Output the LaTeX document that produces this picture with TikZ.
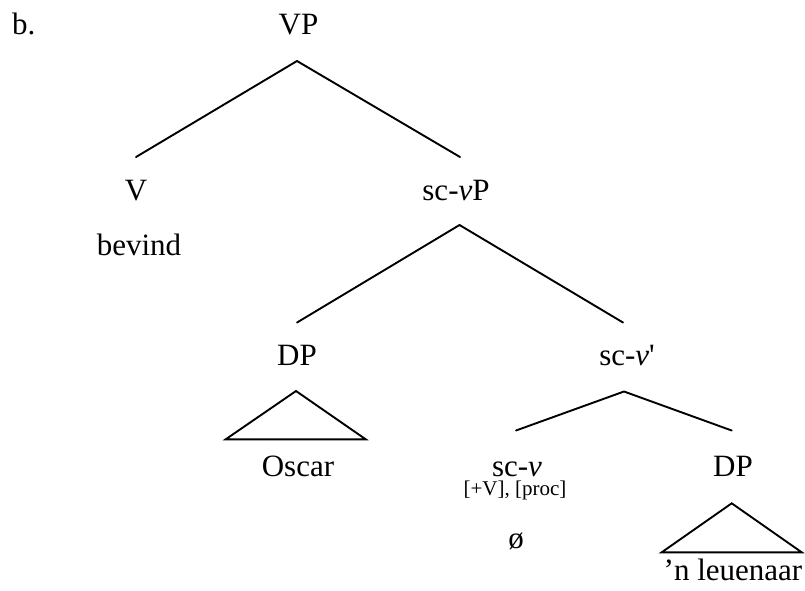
\documentclass[tikz,border=0pt]{standalone}
\usepackage{fontspec}
\setmainfont{Liberation Serif}
\tikzset{
  lbl/.style={anchor=base, inner sep=0pt, font=\fontsize{31}{36}\selectfont},
  small/.style={anchor=base, inner sep=0pt, font=\fontsize{21}{25}\selectfont},
  branch/.style={line width=1.9pt, line cap=round, line join=miter},
}
\begin{document}
\begin{tikzpicture}[x=1pt,y=-1pt]
\useasboundingbox (0,0) rectangle (805,590);
% labels
\node[lbl, anchor=base west] (b) at (12,34) {b.};
\node[lbl] (VP) at (298.5,34) {VP};
\node[lbl] (V) at (136,200) {V};
\node[lbl] (bevind) at (139,255) {bevind};
\node[lbl] (scvP) at (456,200) {sc-\textit{v}P};
\node[lbl] (DP1) at (297,365) {DP};
\node[lbl] (scvbar) at (627,365) {sc-\textit{v}\textquotesingle};
\node[lbl] (Oscar) at (298,476) {Oscar};
\node[lbl] (scv) at (517,476) {sc-\textit{v}};
\node[small] (feat) at (515,495) {[+V], [proc]};
\node[lbl] (null) at (516,548) {ø};
\node[lbl] (DP2) at (733,476) {DP};
\node[lbl] (leeu) at (733,580) {’n leuenaar};
% branch points
\coordinate (vpTop) at (297,61);
\coordinate (vL) at (136,157);
\coordinate (scvPR) at (460,157);
\coordinate (scvPTop) at (459.5,225);
\coordinate (dp1End) at (297,322.5);
\coordinate (scvbarEnd) at (623,322.5);
\coordinate (scvbarTop) at (624,391.5);
\coordinate (scvEnd) at (516,430.5);
\coordinate (dp2End) at (731.7,430.5);
\coordinate (t1Top) at (296,391);
\coordinate (t1L) at (225.7,439.3);
\coordinate (t1R) at (365.7,439.3);
\coordinate (t2Top) at (731.7,503.3);
\coordinate (t2L) at (661.7,552.3);
\coordinate (t2R) at (801.7,552.3);
% connectors
\draw[branch] (vL) -- (vpTop) -- (scvPR);
\draw[branch] (dp1End) -- (scvPTop) -- (scvbarEnd);
\draw[branch] (scvEnd) -- (scvbarTop) -- (dp2End);
\draw[branch] (t1L) -- (t1Top) -- (t1R) -- cycle;
\draw[branch] (t2L) -- (t2Top) -- (t2R) -- cycle;
\end{tikzpicture}
\end{document}
